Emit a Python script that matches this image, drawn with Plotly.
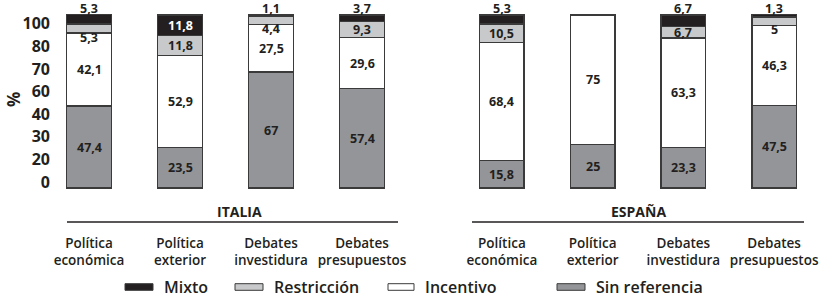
import numpy as np
import plotly.graph_objects as go

categories = ["Política<br>económica", "Política<br>exterior", "Debates<br>investidura", "Debates<br>presupuestos"]
groups = ["ITALIA", "ESPAÑA"]
series = ["Sin referencia", "Incentivo", "Restricción", "Mixto"]

italia_sin_ref = [47.4, 23.5, 67, 57.4]
italia_incentivo = [42.1, 52.9, 27.5, 29.6]
italia_restriccion = [5.3, 11.8, 4.4, 9.3]
italia_mixto = [5.3, 11.8, 1.1, 3.7]

espana_sin_ref = [15.8, 25, 23.3, 47.5]
espana_incentivo = [68.4, 75, 63.3, 46.3]
espana_restriccion = [10.5, 0, 6.7, 5]
espana_mixto = [5.3, 0, 6.7, 1.3]

y_tick_labels = ["0", "20", "30", "40", "60", "70", "80", "100"]
legend_order = ["Mixto", "Restricción", "Incentivo", "Sin referencia"]

colors = {"Sin referencia": "#939598", "Incentivo": "#ffffff",
          "Restricción": "#c8c9ca", "Mixto": "#231f20"}
INK = "#231f20"
FONT = "Open Sans"

W, H, T, B = 824, 300, 14, 111
PH = H - T - B

def px(p):
    return p / W

def py(p):
    return (H - B - p) / PH

data = {
    "ITALIA": [italia_sin_ref, italia_incentivo, italia_restriccion, italia_mixto],
    "ESPAÑA": [espana_sin_ref, espana_incentivo, espana_restriccion, espana_mixto],
}

def fmt(v):
    s = f"{v:g}"
    return s.replace(".", ",")

fig = go.Figure()
annotations = []
axes = [("x", "y"), ("x2", "y2")]
for gi, g in enumerate(groups):
    xa, ya = axes[gi]
    vals = data[g]
    for si, s in enumerate(series):
        fig.add_trace(go.Bar(
            x=categories, y=vals[si], name=s, xaxis=xa, yaxis=ya,
            width=0.49, marker=dict(color=colors[s], line=dict(color="#3a3a3a", width=1.3)),
            showlegend=False, hoverinfo="skip"))
    for ci, c in enumerate(categories):
        base = 0
        for si, s in enumerate(series):
            v = vals[si][ci]
            if v <= 0:
                base += v
                continue
            font = dict(family=FONT, size=12.5, color=INK, weight=700)
            ann = dict(x=c, xref=xa, yref=ya, text=fmt(v), showarrow=False, font=font,
                       xanchor="center")
            if s == "Mixto" and v < 10:
                ann.update(y=base + v, yanchor="middle", yshift=6)
            elif s == "Restricción" and v < 6:
                ann.update(y=base, yanchor="middle", yshift=-4)
            else:
                ann.update(y=base + v / 2, yanchor="middle")
                if s == "Mixto":
                    font["color"] = "#ffffff"
            annotations.append(ann)
            base += v

# group titles and underline
title_x = [240, 638]
line_x = [(67, 398), (472, 804)]
shapes = []
for gi, g in enumerate(groups):
    annotations.append(dict(x=px(title_x[gi]), y=py(211), xref="paper", yref="paper", text=g,
                            xanchor="center", yanchor="middle", showarrow=False,
                            font=dict(family=FONT, size=14, color=INK, weight=700)))
    shapes.append(dict(type="line", xref="paper", yref="paper", x0=px(line_x[gi][0]), x1=px(line_x[gi][1]),
                       y0=py(222), y1=py(222), line=dict(color=INK, width=1.5)))

# "%" axis title
annotations.append(dict(x=px(13), y=py(100), xref="paper", yref="paper", text="%", textangle=-90,
                        xanchor="center", yanchor="middle", showarrow=False,
                        font=dict(family=FONT, size=17, color=INK, weight=700)))

# manual legend
leg_sw = [(125, 153), (235, 263), (388, 414), (557, 585)]
leg_y = 287
for i, name in enumerate(legend_order):
    x0, x1 = leg_sw[i]
    shapes.append(dict(type="rect", xref="paper", yref="paper", x0=px(x0), x1=px(x1),
                       y0=py(leg_y + 3.3), y1=py(leg_y - 3.3),
                       fillcolor=colors[name], line=dict(color="#3a3a3a", width=1)))
    annotations.append(dict(x=px(x1 + 9), y=py(leg_y), xref="paper", yref="paper", text=name,
                            xanchor="left", yanchor="middle", showarrow=False,
                            font=dict(family=FONT, size=16, color=INK, weight=600)))

tickvals = np.linspace(3.5, 94.8, len(y_tick_labels))
xcommon = dict(showgrid=False, zeroline=False, showline=False, ticks="",
               tickfont=dict(family=FONT, size=13.5, color=INK, weight=600),
               ticklabelstandoff=44, range=[-0.5, 3.5], fixedrange=True)
fig.update_layout(
    width=W, height=H,
    margin=dict(l=0, r=0, t=T, b=B, autoexpand=False),
    paper_bgcolor="white", plot_bgcolor="white",
    barmode="stack",
    xaxis=dict(domain=[px(43.5), px(407.5)], anchor="y", **xcommon),
    xaxis2=dict(domain=[px(456.5), px(819.5)], anchor="y2", **xcommon),
    yaxis=dict(range=[-0.5, 100.5], anchor="free", position=px(50), showgrid=False, zeroline=False,
               showline=False, ticks="", tickvals=tickvals, ticktext=y_tick_labels, fixedrange=True,
               tickfont=dict(family=FONT, size=16, color=INK, weight=700)),
    yaxis2=dict(range=[-0.5, 100.5], anchor="x2", matches="y", showgrid=False, zeroline=False,
                showline=False, showticklabels=False, fixedrange=True),
    annotations=annotations,
    shapes=shapes,
    showlegend=False,
)

fig.write_html("out.html", config={"displayModeBar": False},
               post_script="document.body.style.margin='0';document.body.style.overflow='hidden';")
